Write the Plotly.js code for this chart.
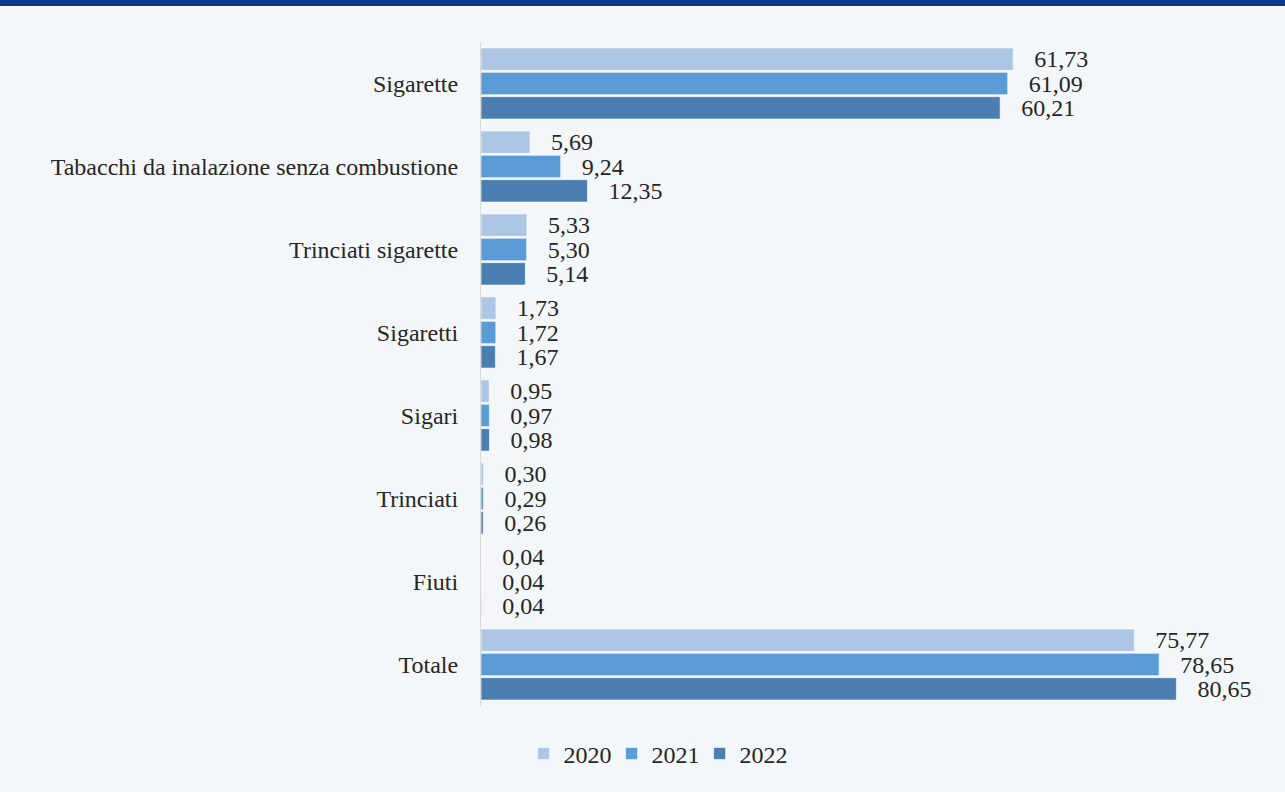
<!DOCTYPE html>
<html>
<head>
<meta charset="utf-8">
<script src="https://cdn.plot.ly/plotly-3.0.1.min.js"></script>
<style>
html,body{margin:0;padding:0;background:#f4f7fa;}
#band{position:absolute;left:0;top:0;width:1285px;height:6px;background:#0b3a8f;z-index:5;}
#chart{width:1285px;height:792px;}
</style>
</head>
<body>
<div id="band"></div>
<div id="chart"></div>
<script>
const categories = ["Sigarette","Tabacchi da inalazione senza combustione","Trinciati sigarette","Sigaretti","Sigari","Trinciati","Fiuti","Totale"];
const years = ["2020","2021","2022"];
const v2020 = [61.73, 5.69, 5.33, 1.73, 0.95, 0.30, 0.04, 75.77];
const v2021 = [61.09, 9.24, 5.30, 1.72, 0.97, 0.29, 0.04, 78.65];
const v2022 = [60.21, 12.35, 5.14, 1.67, 0.98, 0.26, 0.04, 80.65];
const colors = ["#adc6e5", "#5b9bd5", "#4a7eb0"];

const series = [v2020, v2021, v2022];
const pad = "\u00a0\u00a0\u00a0";
const traces = series.map((vals, i) => ({
  type: "bar",
  orientation: "h",
  name: years[i],
  y: categories,
  x: vals,
  text: vals.map(v => pad + v.toFixed(2).replace(".", ",")),
  textposition: "outside",
  constraintext: "none",
  textfont: {family: "Liberation Serif, serif", size: 24, color: "#262626"},
  marker: {color: colors[i], line: {color: "rgba(255,255,255,0.6)", width: 1}},
  hoverinfo: "none"
}));

const layout = {
  width: 1285, height: 792,
  paper_bgcolor: "#f4f7fa",
  plot_bgcolor: "#f4f7fa",
  margin: {l: 481, r: 28, t: 42, b: 86},
  barmode: "group",
  bargap: 0.12,
  bargroupgap: 0.08,
  font: {family: "Liberation Serif, serif", size: 24, color: "#262626"},
  xaxis: {range: [0, 90], autorange: false, showgrid: false, zeroline: false, showticklabels: false, ticks: "", showline: false},
  yaxis: {autorange: "reversed", showline: true, linecolor: "#d9d9d9", linewidth: 1, ticks: "", ticklabelstandoff: 17, showgrid: false, zeroline: false, tickfont: {size: 24, color: "#262626"}},
  showlegend: true,
  legend: {orientation: "h", x: 0.225, xanchor: "center", y: -0.072, yanchor: "middle", font: {size: 24, color: "#262626"}, traceorder: "normal", entrywidth: 43, entrywidthmode: "pixels"}
};

Plotly.newPlot("chart", traces, layout, {displayModeBar: false});
</script>
</body>
</html>
